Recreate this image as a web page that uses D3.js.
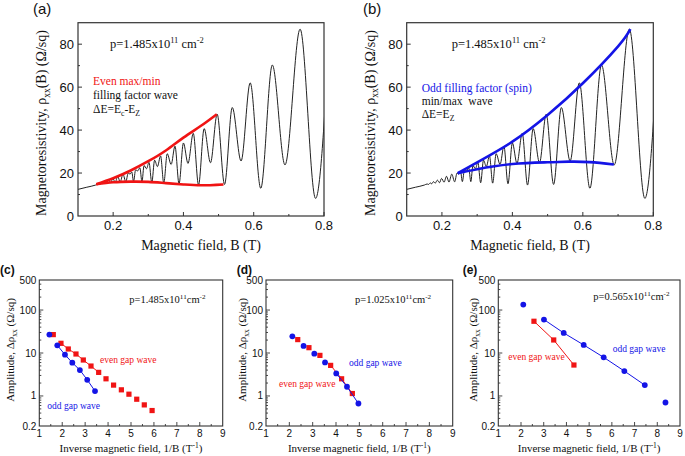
<!DOCTYPE html>
<html><head><meta charset="utf-8">
<script src="https://cdn.jsdelivr.net/npm/d3@7"></script>
<style>body{margin:0;background:#fff}svg{display:block}</style>
</head><body>
<svg id="fig" width="685" height="456"></svg>
<script>
// ---------- DATA ----------
// SdH trace: extrema (B in T, rho in Ohm/sq)
const sdhB = [0.100,0.125,0.150,0.158,0.162,0.167,0.171,0.176,0.181,0.187,0.193,0.199,0.206,0.213,0.220,0.228,0.236,
  0.243,0.248,0.253,0.258,0.264,0.270,0.276,0.282,0.288,0.295,0.302,0.310,0.318,0.326,0.335,0.344,0.354,0.365,0.376,0.3875,
  0.400,0.413,0.428,0.443,0.459,0.477,0.496,0.517,0.539,0.564,0.590,0.620,0.653,0.689,0.732,0.776,0.812];
const sdhRho = [12.4,13.4,14.4,14.9,14.7,15.4,15.0,16.0,15.3,16.7,15.5,17.5,15.7,18.5,15.8,19.5,15.9,
  20.0,19.5,20.5,16.0,21.5,21.0,22.5,16.0,23.5,22.0,25.0,15.5,26.0,23.0,28.0,15.3,29.0,24.0,32.5,15.0,
  34.0,24.5,38.5,14.4,40.7,24.8,47.4,14.7,50.5,25.6,62.0,12.9,70.3,23.8,87.0,8.2,75.0];
// Even filling-factor envelopes (panel a)
const evenMaxB = [0.152,0.2,0.25,0.3,0.35,0.4,0.45,0.495];
const evenMaxRho = [14.8,17.6,21.2,25.5,30.5,36.5,42.0,47.4];
const evenMinB = [0.152,0.2,0.25,0.3,0.35,0.4,0.45,0.514];
const evenMinRho = [14.8,15.7,16.0,15.9,15.3,14.7,14.3,14.7];
// Odd filling-factor envelopes (panel b)
const oddMaxB = [0.245,0.3,0.4,0.5,0.6,0.7,0.735];
const oddMaxRho = [19.9,25.0,34.6,47.0,61.8,79.0,87.0];
const oddMinB = [0.245,0.3,0.4,0.5,0.56,0.62,0.688];
const oddMinRho = [19.9,21.8,24.2,25.0,25.3,25.1,24.0];

// Amplitude vs 1/B panels
const cOddX = [1.44,1.785,2.12,2.44,2.77,3.09,3.43];
const cOddY = [26.8,15.1,9.15,5.94,4.01,2.38,1.30];
const cEvenX = [1.61,1.945,2.265,2.6,2.92,3.255,3.59,3.91,4.24,4.58,4.91,5.25,5.58,5.92];
const cEvenY = [26.8,16.8,12.4,9.48,6.87,4.97,3.54,2.51,1.79,1.39,1.10,0.84,0.62,0.458];
const dOddX = [2.13,2.61,3.07,3.53,4.01,4.47,4.96];
const dOddY = [24.5,14.6,9.65,6.05,3.35,1.64,0.668];
const dEvenX = [2.36,2.84,3.31,3.77,4.24,4.70];
const dEvenY = [20.5,13.3,8.8,5.15,2.51,1.14];
const eOddX = [2.10,3.01,3.88,4.76,5.64,6.55,7.45,8.36];
const eOddY = [134,60,29.3,15.4,7.93,3.8,1.79,0.705];
const eEvenX = [2.57,3.44,4.33];
const eEvenY = [54.8,20.1,5.25];

const rhoTicks = [0,20,40,60,80];
const bTicks = [0.2,0.4,0.6,0.8];
const ampTicks = [0.2,1,10,100,500];
const invTicks = [1,2,3,4,5,6,7,8,9];

// ---------- STYLE ----------
const RED = "#f01414", BLUE = "#1414e6", INK = "#333";
const SANS = "'Liberation Sans', Arial, sans-serif";
const SERIF = "'Liberation Serif', 'Times New Roman', serif";

const svg = d3.select("#fig");

function rich(g, x, y, parts, size, opts = {}) {
  const t = g.append("text").attr("x", x).attr("y", y)
    .attr("font-family", opts.family || SERIF).attr("font-size", size)
    .attr("fill", opts.fill || "#111");
  if (opts.anchor) t.attr("text-anchor", opts.anchor);
  if (opts.rotate) t.attr("transform", `rotate(-90,${x},${y})`);
  let shift = 0;
  parts.forEach(p => {
    const [s, k] = Array.isArray(p) ? p : [p, null];
    const target = k === "sup" ? -0.38 * size : k === "sub" ? 0.25 * size : 0;
    const ts = t.append("tspan").attr("dy", target - shift).text(s);
    if (k) ts.attr("font-size", size * 0.68);
    shift = target;
  });
  return t;
}

// ---------- Panels a/b ----------
function sdhPanel(box, id) {
  const x = d3.scaleLinear().domain([0.1, 0.8]).range([box.l, box.r]);
  const y = d3.scaleLinear().domain([0, 90]).range([box.b, box.t]);
  const g = svg.append("g");
  g.append("clipPath").attr("id", id).append("rect")
    .attr("x", box.l).attr("y", box.t).attr("width", box.r - box.l).attr("height", box.b - box.t);
  const line = d3.line().x(d => x(d[0])).y(d => y(d[1])).curve(d3.curveMonotoneX);
  const pts = sdhB.map((b, i) => [b, sdhRho[i]]);
  g.append("path").attr("clip-path", `url(#${id})`).attr("d", line(pts))
    .attr("fill", "none").attr("stroke", "#222").attr("stroke-width", 1);
  // ticks inward
  const ax = g.append("g").attr("stroke", INK).attr("stroke-width", 1);
  d3.range(0.2, 0.81, 0.1).forEach(v => {
    const major = Math.abs(v * 10 % 2) < 0.01 || Math.abs(v * 10 % 2 - 2) < 0.01;
    ax.append("line").attr("x1", x(v)).attr("x2", x(v)).attr("y1", box.b).attr("y2", box.b - (major ? 4 : 2));
  });
  d3.range(10, 90, 10).forEach(v => {
    const major = v % 20 === 0;
    ax.append("line").attr("x1", box.l).attr("x2", box.l + (major ? 4 : 2)).attr("y1", y(v)).attr("y2", y(v));
  });
  g.append("rect").attr("x", box.l).attr("y", box.t).attr("width", box.r - box.l).attr("height", box.b - box.t)
    .attr("fill", "none").attr("stroke", INK).attr("stroke-width", 1.2);
  bTicks.forEach(v => g.append("text").attr("x", x(v)).attr("y", box.b + 14).attr("text-anchor", "middle")
    .attr("font-family", SANS).attr("font-size", 13).attr("fill", "#111").text(d3.format(".1f")(v)));
  rhoTicks.forEach(v => g.append("text").attr("x", box.l - 4).attr("y", y(v) + 4.5).attr("text-anchor", "end")
    .attr("font-family", SANS).attr("font-size", 13).attr("fill", "#111").text(v));
  rich(g, (box.l + box.r) / 2, 250, ["Magnetic field, B (T)"], 14, { anchor: "middle" });
  rich(g, box.l - 32, 123, ["Magnetoresistivity, \u03C1", ["xx", "sub"], "(B) (\u03A9/sq)"], 14, { anchor: "middle", rotate: true });
  return { g, x, y };
}

const A = sdhPanel({ l: 78, r: 324, t: 22.7, b: 216 }, "clipA");
const envLine = (p) => d3.line().x(d => p.x(d[0])).y(d => p.y(d[1])).curve(d3.curveNatural);
[[evenMaxB, evenMaxRho], [evenMinB, evenMinRho]].forEach(([bs, rs]) =>
  A.g.append("path").attr("d", envLine(A)(bs.map((b, i) => [b, rs[i]])))
    .attr("fill", "none").attr("stroke", RED).attr("stroke-width", 2.6));
rich(A.g, 110, 48, ["p=1.485x10", ["11", "sup"], " cm", ["-2", "sup"]], 12.5);
rich(A.g, 93, 85, ["Even max/min"], 11.5, { fill: RED });
rich(A.g, 93, 99.3, ["filling factor wave"], 11.5);
rich(A.g, 93, 113, ["\u0394E=E", ["c", "sub"], "-E", ["Z", "sub"]], 11.5);
svg.append("text").attr("x", 33).attr("y", 14).attr("font-family", SANS).attr("font-size", 15).attr("fill", "#111").text("(a)");

const B = sdhPanel({ l: 406.7, r: 653.3, t: 22.7, b: 216 }, "clipB");
[[oddMaxB, oddMaxRho], [oddMinB, oddMinRho]].forEach(([bs, rs]) =>
  B.g.append("path").attr("d", envLine(B)(bs.map((b, i) => [b, rs[i]])))
    .attr("fill", "none").attr("stroke", BLUE).attr("stroke-width", 2.6));
rich(B.g, 451.7, 48, ["p=1.485x10", ["11", "sup"], " cm", ["-2", "sup"]], 12.5);
rich(B.g, 421.7, 91.7, ["Odd filling factor (spin)"], 11.5, { fill: BLUE });
rich(B.g, 421.7, 105, ["min/max\u00A0 wave"], 11.5);
rich(B.g, 421.7, 118.3, ["\u0394E=E", ["Z", "sub"]], 11.5);
svg.append("text").attr("x", 363).attr("y", 14).attr("font-family", SANS).attr("font-size", 15).attr("fill", "#111").text("(b)");

// ---------- Panels c/d/e ----------
function ampPanel(box, label, labelX, titleX, cfg) {
  const x = d3.scaleLinear().domain([1, 9]).range([box.l, box.r]);
  const y = d3.scaleLog().domain([0.2, 500]).range([box.b, box.t]);
  const g = svg.append("g");
  const ax = g.append("g").attr("stroke", INK).attr("stroke-width", 0.9);
  d3.range(1.5, 9, 0.5).forEach(v => {
    const major = Math.abs(v - Math.round(v)) < 0.01;
    ax.append("line").attr("x1", x(v)).attr("x2", x(v)).attr("y1", box.b).attr("y2", box.b - (major ? 4 : 2));
  });
  const minors = [];
  [0.1, 1, 10, 100].forEach(dec => d3.range(1, 10).forEach(k => {
    const v = dec * k; if (v > 0.2 && v < 500) minors.push(v);
  }));
  minors.forEach(v => {
    const major = [1, 10, 100].includes(v);
    ax.append("line").attr("x1", box.l).attr("x2", box.l + (major ? 4 : 2)).attr("y1", y(v)).attr("y2", y(v));
  });
  g.append("rect").attr("x", box.l).attr("y", box.t).attr("width", box.r - box.l).attr("height", box.b - box.t)
    .attr("fill", "none").attr("stroke", INK).attr("stroke-width", 1.1);
  invTicks.forEach(v => g.append("text").attr("x", x(v)).attr("y", box.b + 11).attr("text-anchor", "middle")
    .attr("font-family", SANS).attr("font-size", 10).attr("fill", "#111").text(v));
  ampTicks.forEach(v => g.append("text").attr("x", box.l - 3).attr("y", y(v) + 3.5).attr("text-anchor", "end")
    .attr("font-family", SANS).attr("font-size", 10).attr("fill", "#111").text(v));
  rich(g, (box.l + box.r) / 2, 452, ["Inverse magnetic field, 1/B (T", ["-1", "sup"], ")"], 11, { anchor: "middle" });
  rich(g, titleX, 350, ["Amplitude, \u0394\u03C1", ["xx", "sub"], " (\u03A9/sq)"], 11, { anchor: "middle", rotate: true });
  svg.append("text").attr("x", labelX).attr("y", 274).attr("font-family", SANS).attr("font-size", 12)
    .attr("font-weight", "bold").attr("fill", "#111").text(label);
  cfg.series.forEach(s => {
    const pts = s.xs.map((v, i) => [v, s.ys[i]]);
    const fit = pts.slice(s.fit[0], s.fit[1] + 1);
    g.append("path").attr("d", d3.line().x(d => x(d[0])).y(d => y(d[1]))(fit))
      .attr("fill", "none").attr("stroke", s.color).attr("stroke-width", 1);
    if (s.shape === "sq") {
      g.selectAll(null).data(pts).join("rect").attr("x", d => x(d[0]) - 2.6).attr("y", d => y(d[1]) - 2.6)
        .attr("width", 5.2).attr("height", 5.2).attr("fill", s.color);
    } else {
      g.selectAll(null).data(pts).join("circle").attr("cx", d => x(d[0])).attr("cy", d => y(d[1]))
        .attr("r", 2.9).attr("fill", s.color);
    }
  });
  cfg.texts.forEach(t => rich(g, t.x, t.y, t.parts, t.size, { fill: t.fill }));
}

ampPanel({ l: 39.3, r: 222.7, t: 280, b: 426 }, "(c)", 0, 14, {
  series: [
    { xs: cEvenX, ys: cEvenY, color: RED, shape: "sq", fit: [1, 6] },
    { xs: cOddX, ys: cOddY, color: BLUE, shape: "c", fit: [1, 6] }],
  texts: [
    { x: 129.3, y: 302.7, parts: ["p=1.485x10", ["11", "sup"], "cm", ["-2", "sup"]], size: 10.5 },
    { x: 100, y: 363.3, parts: ["even gap wave"], size: 9.5, fill: RED },
    { x: 47.3, y: 409.3, parts: ["odd gap wave"], size: 9.5, fill: BLUE }]
});
ampPanel({ l: 266, r: 452.7, t: 280, b: 426 }, "(d)", 236.7, 246, {
  series: [
    { xs: dEvenX, ys: dEvenY, color: RED, shape: "sq", fit: [3, 5] },
    { xs: dOddX, ys: dOddY, color: BLUE, shape: "c", fit: [4, 6] }],
  texts: [
    { x: 355, y: 302.7, parts: ["p=1.025x10", ["11", "sup"], "cm", ["-2", "sup"]], size: 10.5 },
    { x: 349, y: 366, parts: ["odd gap wave"], size: 9.5, fill: BLUE },
    { x: 279, y: 387.3, parts: ["even gap wave"], size: 9.5, fill: RED }]
});
ampPanel({ l: 498.3, r: 680, t: 280, b: 426 }, "(e)", 462.7, 477, {
  series: [
    { xs: eEvenX, ys: eEvenY, color: RED, shape: "sq", fit: [0, 2] },
    { xs: eOddX, ys: eOddY, color: BLUE, shape: "c", fit: [1, 6] }],
  texts: [
    { x: 593.3, y: 300, parts: ["p=0.565x10", ["11", "sup"], "cm", ["-2", "sup"]], size: 10.5 },
    { x: 612.7, y: 351.7, parts: ["odd gap wave"], size: 9.5, fill: BLUE },
    { x: 508.3, y: 360, parts: ["even gap wave"], size: 9.5, fill: RED }]
});
</script>
</body></html>
